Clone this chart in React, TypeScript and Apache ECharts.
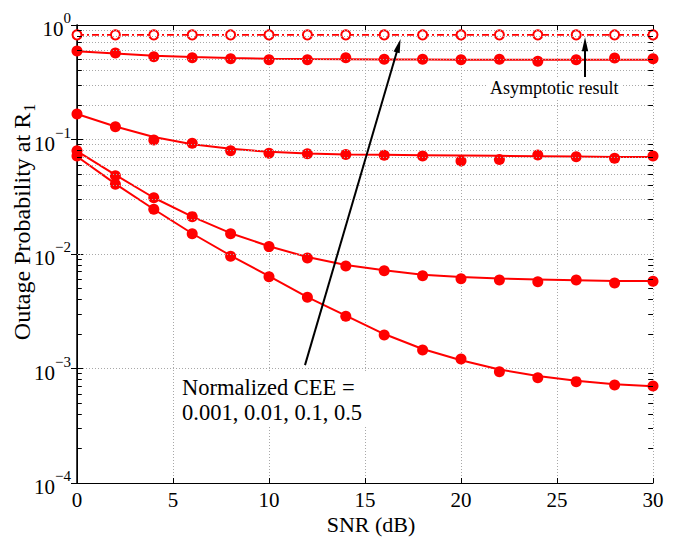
import React, { useEffect, useRef } from 'react';
import * as echarts from 'echarts';

const snr = [0, 2, 4, 6, 8, 10, 12, 14, 16, 18, 20, 22, 24, 26, 28, 30];
const xTicks = [0, 5, 10, 15, 20, 25, 30];
const yTickExponents = [-4, -3, -2, -1, 0];

const asymptotic = [0.82, 0.82, 0.82, 0.82, 0.82, 0.82, 0.82, 0.82, 0.82, 0.82, 0.82, 0.82, 0.82, 0.82, 0.82, 0.82];

const cee05Line = [0.59, 0.565, 0.54, 0.525, 0.515, 0.508, 0.504, 0.502, 0.5, 0.499, 0.498, 0.497, 0.497, 0.496, 0.496, 0.496];
const cee05Sim = [0.593, 0.569, 0.529, 0.518, 0.508, 0.498, 0.498, 0.518, 0.502, 0.502, 0.498, 0.502, 0.482, 0.497, 0.515, 0.508];

const cee01Line = [0.167, 0.13, 0.105, 0.091, 0.083, 0.078, 0.0755, 0.074, 0.0735, 0.073, 0.0725, 0.072, 0.0715, 0.071, 0.0705, 0.0702];
const cee01Sim = [0.167, 0.129, 0.099, 0.0927, 0.0798, 0.0757, 0.0752, 0.0738, 0.073, 0.0718, 0.0649, 0.0668, 0.0733, 0.0708, 0.0686, 0.0718];

const cee001Line = [0.079, 0.049, 0.031, 0.0212, 0.0152, 0.0117, 0.0094, 0.008, 0.0072, 0.0066, 0.0063, 0.0061, 0.006, 0.0059, 0.0058, 0.0058];
const cee001Sim = [0.0798, 0.0483, 0.031, 0.0212, 0.015, 0.0116, 0.00923, 0.00785, 0.00714, 0.00647, 0.00609, 0.00593, 0.00573, 0.00593, 0.00558, 0.00577];

const cee0001Line = [0.071, 0.041, 0.0246, 0.0151, 0.0097, 0.0064, 0.0042, 0.0029, 0.002, 0.00148, 0.00118, 0.00098, 0.00086, 0.00078, 0.00073, 0.0007];
const cee0001Sim = [0.0718, 0.0406, 0.0246, 0.015, 0.00955, 0.00634, 0.00419, 0.00286, 0.00196, 0.00145, 0.00121, 0.000937, 0.000832, 0.000768, 0.000718, 0.000703];

const minorMultipliers = [2, 3, 4, 5, 6, 7, 8, 9];

const FONT = 'Liberation Serif';
const RED = '#ff0000';
const GRID = '#a8a8a8';

const pairs = (ys: number[]) => snr.map((x, i) => [x, ys[i]]);

function buildOption() {
  const minorVals: number[] = [];
  for (let e = -4; e < 0; e++) {
    for (const m of minorMultipliers) minorVals.push(m * Math.pow(10, e));
  }
  const minorGrid = minorVals.map((v) => ({ yAxis: v }));
  const minorTicks: any[] = [];
  minorVals.forEach((v) => {
    minorTicks.push([{ coord: [0, v] }, { coord: [0.25, v] }]);
    minorTicks.push([{ coord: [29.75, v] }, { coord: [30, v] }]);
  });

  const lineSeries = (ys: number[]) => ({
    type: 'line',
    data: pairs(ys),
    symbol: 'none',
    clip: false,
    z: 3,
    lineStyle: { color: RED, width: 2, opacity: 1 },
  });
  const simSeries = (ys: number[]) => ({
    type: 'scatter',
    data: pairs(ys),
    symbol: 'circle',
    symbolSize: 11,
    clip: false,
    z: 4,
    itemStyle: { color: RED, opacity: 1 },
  });

  const labelFmt = (v: number) => {
    const e = Math.round(Math.log10(v));
    if (!yTickExponents.includes(e)) return '';
    return '{b|10}{e|' + (e < 0 ? '\u2212' + Math.abs(e) : String(e)) + '}';
  };

  return {
    animation: false,
    backgroundColor: '#fff',
    textStyle: { fontFamily: FONT },
    grid: { left: 77, top: 25, right: 24, bottom: 54, containLabel: false, outerBoundsMode: 'none' },
    xAxis: [
      {
        type: 'value',
        min: 0,
        max: 30,
        interval: 5,
        axisLine: { show: true, lineStyle: { color: '#000', width: 1.2 } },
        axisTick: { show: true, inside: true, length: 5, lineStyle: { color: '#000' } },
        axisLabel: {
          fontFamily: FONT,
          fontSize: 21,
          color: '#000',
          margin: 6,
          formatter: (v: number) => (xTicks.includes(v) ? String(v) : ''),
        },
        splitLine: { show: true, lineStyle: { color: GRID, type: [1, 2], width: 1 } },
      },
      {
        type: 'value',
        position: 'top',
        min: 0,
        max: 30,
        interval: 5,
        axisLine: { show: true, lineStyle: { color: '#000', width: 1 } },
        axisTick: { show: true, inside: true, length: 5, lineStyle: { color: '#000' } },
        axisLabel: { show: false },
        splitLine: { show: false },
      },
    ],
    yAxis: [
      {
        type: 'log',
        logBase: 10,
        min: 1e-4,
        max: 1,
        axisLine: { show: true, lineStyle: { color: '#000', width: 1.5 } },
        axisTick: { show: true, inside: true, length: 6, lineStyle: { color: '#000' } },
        axisLabel: {
          fontFamily: FONT,
          color: '#000',
          margin: 6,
          showMinLabel: true,
          showMaxLabel: true,
          formatter: labelFmt,
          rich: {
            b: { fontFamily: FONT, fontSize: 21, color: '#000', padding: [8, 0, 0, 0] },
            e: { fontFamily: FONT, fontSize: 15, color: '#000', verticalAlign: 'top' },
          },
        },
        splitLine: { show: true, lineStyle: { color: GRID, type: [1, 2], width: 1 } },
      },
      {
        type: 'log',
        logBase: 10,
        min: 1e-4,
        max: 1,
        position: 'right',
        axisLine: { show: true, lineStyle: { color: '#000', width: 1 } },
        axisTick: { show: true, inside: true, length: 6, lineStyle: { color: '#000' } },
        axisLabel: { show: false },
        splitLine: { show: false },
      },
    ],
    series: [
      {
        type: 'line',
        data: [],
        z: 1,
        silent: true,
        markLine: {
          silent: true,
          symbol: 'none',
          animation: false,
          label: { show: false },
          lineStyle: { color: GRID, type: [1, 2], width: 1 },
          data: minorGrid,
        },
      },
      {
        type: 'line',
        data: [],
        z: 2,
        silent: true,
        markLine: {
          silent: true,
          symbol: 'none',
          animation: false,
          label: { show: false },
          lineStyle: { color: '#000', type: 'solid', width: 1 },
          data: minorTicks,
        },
      },
      {
        type: 'line',
        data: pairs(asymptotic),
        clip: false,
        z: 4,
        symbol: 'circle',
        symbolSize: 9,
        showAllSymbol: true,
        lineStyle: { color: RED, width: 1.6, type: [7, 3, 2, 3] },
        itemStyle: { color: '#fff', borderColor: RED, borderWidth: 2, opacity: 1 },
      },
      lineSeries(cee05Line),
      simSeries(cee05Sim),
      lineSeries(cee01Line),
      simSeries(cee01Sim),
      lineSeries(cee001Line),
      simSeries(cee001Sim),
      lineSeries(cee0001Line),
      simSeries(cee0001Sim),
      {
        type: 'line',
        data: [],
        z: 6,
        silent: true,
        markLine: {
          silent: true,
          animation: false,
          symbol: ['none', 'path://M5,0 L10,22 L0,22 Z'],
          symbolKeepAspect: true,
          symbolSize: 14,
          label: { show: false },
          lineStyle: { color: '#000', type: 'solid', width: 2 },
          itemStyle: { color: '#000' },
          data: [
            [{ coord: [11.875, 0.00107] }, { coord: [16.75, 0.66] }],
            [{ coord: [26.46, 0.35] }, { coord: [26.46, 0.68] }],
          ],
        },
      },
    ],
    graphic: [
      {
        type: 'text',
        x: 22,
        y: 222,
        rotation: Math.PI / 2,
        z: 100,
        style: {
          text: '{a|Outage Probability at R}{s|1}',
          align: 'center',
          verticalAlign: 'middle',
          fill: '#000',
          rich: {
            a: { fontFamily: FONT, fontSize: 24, fill: '#000' },
            s: { fontFamily: FONT, fontSize: 16, fill: '#000', verticalAlign: 'bottom', padding: [15, 0, 0, 1] },
          },
        },
      },
      {
        type: 'text',
        x: 371,
        y: 524,
        z: 100,
        style: {
          text: 'SNR (dB)',
          fontFamily: FONT,
          fontSize: 22,
          fill: '#000',
          align: 'center',
          verticalAlign: 'middle',
        },
      },
      {
        type: 'text',
        x: 178,
        y: 373,
        z: 100,
        style: {
          text: 'Normalized CEE =\n0.001, 0.01, 0.1, 0.5',
          fontFamily: FONT,
          fontSize: 22.5,
          fill: '#000',
          lineHeight: 25,
          backgroundColor: '#fff',
          padding: [2, 4, 2, 4],
        },
      },
      {
        type: 'text',
        x: 487,
        y: 77,
        z: 100,
        style: {
          text: 'Asymptotic result',
          fontFamily: FONT,
          fontSize: 18,
          fill: '#000',
          backgroundColor: '#fff',
          padding: [2, 3, 2, 3],
        },
      },
    ],
  };
}

export default function App() {
  const ref = useRef<HTMLDivElement>(null);
  useEffect(() => {
    if (!ref.current) return;
    const chart = echarts.init(ref.current, null, { renderer: 'svg' });
    chart.setOption(buildOption() as any);
    return () => chart.dispose();
  }, []);
  return (
    <div
      ref={ref}
      style={{ position: 'fixed', left: 0, top: 0, width: 677, height: 537, background: '#fff' }}
    />
  );
}
